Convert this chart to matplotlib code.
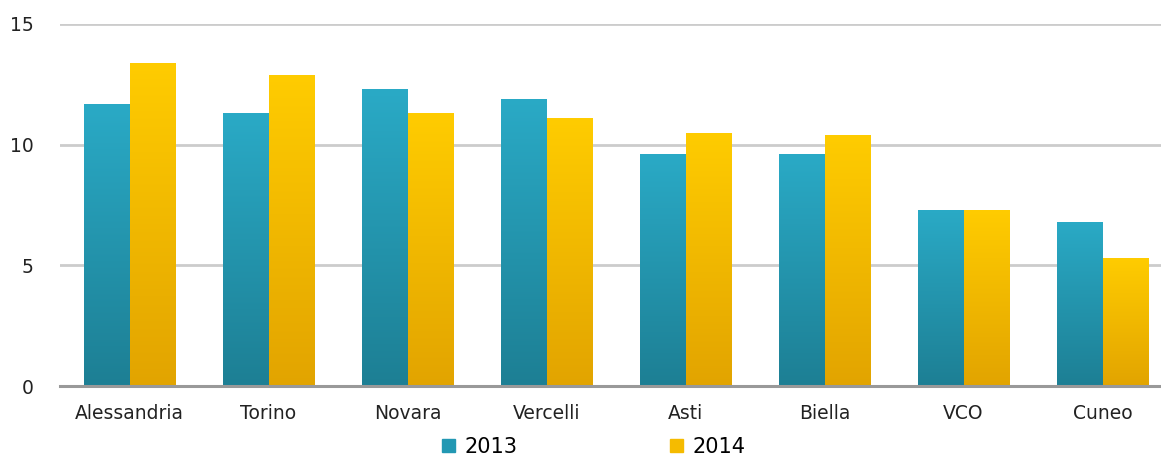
import matplotlib.pyplot as plt
import numpy as np
from matplotlib.colors import LinearSegmentedColormap
from matplotlib.patches import Patch

# data
provinces = ["Alessandria", "Torino", "Novara", "Vercelli", "Asti", "Biella", "VCO", "Cuneo"]
val_2013 = [11.7, 11.3, 12.3, 11.9, 9.6, 9.6, 7.3, 6.8]
val_2014 = [13.4, 12.9, 11.3, 11.1, 10.5, 10.4, 7.3, 5.3]
years = ["2013", "2014"]

teal = LinearSegmentedColormap.from_list("teal", ["#1d7f94", "#2aaac6"])
gold = LinearSegmentedColormap.from_list("gold", ["#e2a400", "#ffcc00"])

fig = plt.figure(figsize=(11.61, 4.59), dpi=100)
ax = fig.add_axes([60 / 1161, 73 / 459, 1112 / 1161, 362 / 459])

x = np.arange(len(provinces))
w = 0.33
grad = np.linspace(0, 1, 256).reshape(-1, 1)


def gradient_bars(xs, vals, cmap):
    bars = ax.bar(xs, vals, width=w, color="none", edgecolor="none", zorder=3)
    for b in bars:
        x0, y0 = b.get_x(), b.get_y()
        im = ax.imshow(grad, cmap=cmap, aspect="auto", origin="lower",
                       extent=[x0, x0 + b.get_width(), y0, y0 + b.get_height()],
                       zorder=3)
        im.set_clip_path(b)
    return bars


gradient_bars(x - w / 2, val_2013, teal)
gradient_bars(x + w / 2, val_2014, gold)

ax.set_xlim(-0.5, len(provinces) - 0.5)
ax.set_ylim(0, 15)
ax.set_yticks([0, 5, 10, 15])
ax.grid(axis="y", color="#cccccc", linewidth=2)
ax.set_axisbelow(True)
for s in ["top", "right", "left"]:
    ax.spines[s].set_visible(False)
ax.spines["bottom"].set_color("#999999")
ax.spines["bottom"].set_linewidth(2.2)
ax.spines["bottom"].set_zorder(4)
ax.tick_params(axis="both", length=0, labelsize=13.5, colors="#222222")
ax.tick_params(axis="y", pad=19)
ax.tick_params(axis="x", pad=13)
ax.set_xticks(x)
ax.set_xticklabels(provinces)

handles = [Patch(color="#2298b3"), Patch(color="#f5bb00")]
fig.legend(handles, years, loc="center", bbox_to_anchor=(594 / 1161, 1 - 447 / 459),
           ncol=2, frameon=False, fontsize=15, handlelength=0.6, handleheight=0.6,
           columnspacing=7.3, handletextpad=0.5, borderpad=0.2)

fig.savefig("out.png", dpi=100)
